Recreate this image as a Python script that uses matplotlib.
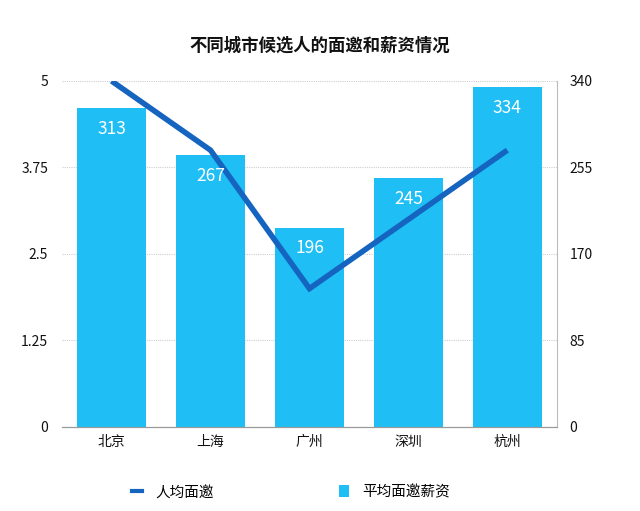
import matplotlib.pyplot as plt
from matplotlib.lines import Line2D
from matplotlib.patches import Patch

plt.rcParams['font.family'] = ['Noto Sans CJK SC', 'DejaVu Sans']

cities = ["北京", "上海", "广州", "深圳", "杭州"]
avg_invites = [5.0, 4.0, 2.0, 3.0, 4.0]
avg_salary = [313, 267, 196, 245, 334]
left_ticks = [0, 1.25, 2.5, 3.75, 5]
left_labels = ["0", "1.25", "2.5", "3.75", "5"]
right_ticks = [0, 85, 170, 255, 340]

bar_color = "#1fbff5"
line_color = "#1565c0"

fig = plt.figure(figsize=(6.4, 5.11), dpi=100)
ax = fig.add_axes([0.097, 0.1644, 0.773, 0.6771])
ax2 = ax.twinx()

x = list(range(len(cities)))
ax2.bar(x, avg_salary, width=0.7, color=bar_color, zorder=2)
ax2.set_ylim(0, 340)
ax2.set_yticks(right_ticks)
ax2.set_yticklabels([str(t) for t in right_ticks])
ax2.yaxis.grid(True, linestyle=(0, (1, 1)), color="#cfcfcf", linewidth=0.8)
ax2.set_axisbelow(True)

ax.plot(x, avg_invites, color=line_color, linewidth=4, solid_capstyle="butt",
        solid_joinstyle="miter", zorder=2)
# value labels go on the top axes so they sit above the line
for xi, v in zip(x, avg_salary):
    ax.annotate(str(v), (xi, v), xycoords=ax2.transData, xytext=(0, -15),
                textcoords="offset points", ha="center", va="center",
                color="white", fontsize=12.5, zorder=3)
ax.set_ylim(0, 5)
ax.set_xlim(-0.5, 4.5)
ax.set_yticks(left_ticks)
ax.set_yticklabels(left_labels)
ax.set_xticks(x)
ax.set_xticklabels(cities)
ax.set_zorder(ax2.get_zorder() + 1)
ax.patch.set_visible(False)

for a in (ax, ax2):
    a.tick_params(length=0, labelsize=10, colors="#111111")
    a.spines["top"].set_visible(False)
    a.spines["left"].set_visible(False)
    a.spines["bottom"].set_color("#9a9a9a")
    a.spines["right"].set_color("#bbbbbb")
ax.tick_params(axis="y", pad=10)
ax2.tick_params(axis="y", pad=9)
ax.tick_params(axis="x", pad=6)
ax2.spines["right"].set_visible(True)
ax.spines["right"].set_visible(False)

fig.text(0.5, 0.911, "不同城市候选人的面邀和薪资情况", ha="center", va="center",
         fontsize=12.5, fontweight="bold", color="#111111")

handles = [Line2D([0], [0], color=line_color, linewidth=3),
           Patch(facecolor=bar_color)]
fig.legend(handles, ["人均面邀", "平均面邀薪资"], loc="center",
           bbox_to_anchor=(0.455, 0.037), ncol=2, frameon=False,
           fontsize=10.5, handlelength=0.7, handleheight=0.9,
           columnspacing=8.6, handletextpad=0.9)

fig.savefig("out.png", dpi=100)
